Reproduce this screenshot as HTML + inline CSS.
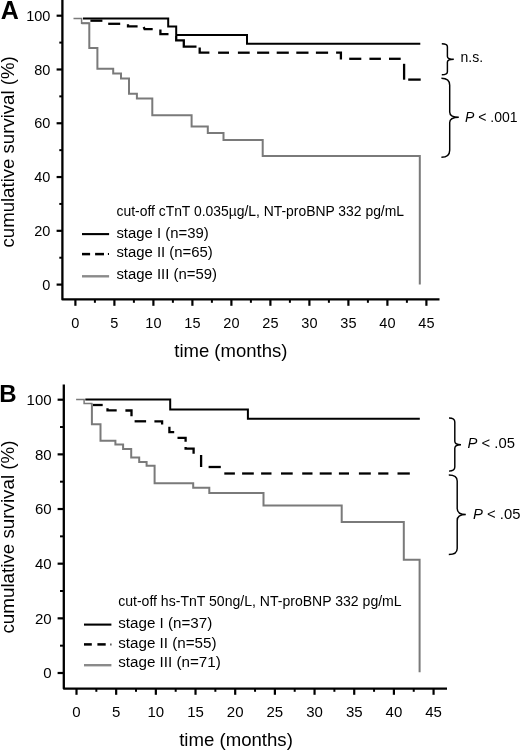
<!DOCTYPE html>
<html><head><meta charset="utf-8"><style>
html,body{margin:0;padding:0;background:#fff;width:520px;height:750px;overflow:hidden}
svg{display:block;position:absolute;left:0;top:0;will-change:transform}
text{font-family:"Liberation Sans", sans-serif;fill:#000}
</style></head><body>
<svg width="520" height="750" viewBox="0 0 520 750">
<polyline points="62.4,0 62.4,299.4 439.5,299.4" fill="none" stroke="#000" stroke-width="2.3" stroke-linejoin="round" stroke-linecap="butt"/>
<line x1="56.6" y1="284.6" x2="62.4" y2="284.6" stroke="#000" stroke-width="2.2" stroke-linecap="butt"/>
<text x="50.4" y="289.7" font-size="14.5" text-anchor="end" font-weight="normal" font-style="normal" >0</text>
<line x1="59.3" y1="257.71" x2="62.4" y2="257.71" stroke="#000" stroke-width="2" stroke-linecap="butt"/>
<line x1="56.6" y1="230.82" x2="62.4" y2="230.82" stroke="#000" stroke-width="2.2" stroke-linecap="butt"/>
<text x="50.4" y="235.92" font-size="14.5" text-anchor="end" font-weight="normal" font-style="normal" >20</text>
<line x1="59.3" y1="203.93" x2="62.4" y2="203.93" stroke="#000" stroke-width="2" stroke-linecap="butt"/>
<line x1="56.6" y1="177.04" x2="62.4" y2="177.04" stroke="#000" stroke-width="2.2" stroke-linecap="butt"/>
<text x="50.4" y="182.14" font-size="14.5" text-anchor="end" font-weight="normal" font-style="normal" >40</text>
<line x1="59.3" y1="150.15" x2="62.4" y2="150.15" stroke="#000" stroke-width="2" stroke-linecap="butt"/>
<line x1="56.6" y1="123.26" x2="62.4" y2="123.26" stroke="#000" stroke-width="2.2" stroke-linecap="butt"/>
<text x="50.4" y="128.36" font-size="14.5" text-anchor="end" font-weight="normal" font-style="normal" >60</text>
<line x1="59.3" y1="96.37" x2="62.4" y2="96.37" stroke="#000" stroke-width="2" stroke-linecap="butt"/>
<line x1="56.6" y1="69.48" x2="62.4" y2="69.48" stroke="#000" stroke-width="2.2" stroke-linecap="butt"/>
<text x="50.4" y="74.58" font-size="14.5" text-anchor="end" font-weight="normal" font-style="normal" >80</text>
<line x1="59.3" y1="42.59" x2="62.4" y2="42.59" stroke="#000" stroke-width="2" stroke-linecap="butt"/>
<line x1="56.6" y1="15.7" x2="62.4" y2="15.7" stroke="#000" stroke-width="2.2" stroke-linecap="butt"/>
<text x="50.4" y="20.8" font-size="14.5" text-anchor="end" font-weight="normal" font-style="normal" >100</text>
<line x1="75.4" y1="299.4" x2="75.4" y2="305.8" stroke="#000" stroke-width="2.2" stroke-linecap="butt"/>
<text x="75.4" y="328.3" font-size="14.5" text-anchor="middle" font-weight="normal" font-style="normal" >0</text>
<line x1="94.9" y1="299.4" x2="94.9" y2="302.8" stroke="#000" stroke-width="2" stroke-linecap="butt"/>
<line x1="114.4" y1="299.4" x2="114.4" y2="305.8" stroke="#000" stroke-width="2.2" stroke-linecap="butt"/>
<text x="114.4" y="328.3" font-size="14.5" text-anchor="middle" font-weight="normal" font-style="normal" >5</text>
<line x1="133.9" y1="299.4" x2="133.9" y2="302.8" stroke="#000" stroke-width="2" stroke-linecap="butt"/>
<line x1="153.4" y1="299.4" x2="153.4" y2="305.8" stroke="#000" stroke-width="2.2" stroke-linecap="butt"/>
<text x="153.4" y="328.3" font-size="14.5" text-anchor="middle" font-weight="normal" font-style="normal" >10</text>
<line x1="172.9" y1="299.4" x2="172.9" y2="302.8" stroke="#000" stroke-width="2" stroke-linecap="butt"/>
<line x1="192.4" y1="299.4" x2="192.4" y2="305.8" stroke="#000" stroke-width="2.2" stroke-linecap="butt"/>
<text x="192.4" y="328.3" font-size="14.5" text-anchor="middle" font-weight="normal" font-style="normal" >15</text>
<line x1="211.9" y1="299.4" x2="211.9" y2="302.8" stroke="#000" stroke-width="2" stroke-linecap="butt"/>
<line x1="231.4" y1="299.4" x2="231.4" y2="305.8" stroke="#000" stroke-width="2.2" stroke-linecap="butt"/>
<text x="231.4" y="328.3" font-size="14.5" text-anchor="middle" font-weight="normal" font-style="normal" >20</text>
<line x1="250.9" y1="299.4" x2="250.9" y2="302.8" stroke="#000" stroke-width="2" stroke-linecap="butt"/>
<line x1="270.4" y1="299.4" x2="270.4" y2="305.8" stroke="#000" stroke-width="2.2" stroke-linecap="butt"/>
<text x="270.4" y="328.3" font-size="14.5" text-anchor="middle" font-weight="normal" font-style="normal" >25</text>
<line x1="289.9" y1="299.4" x2="289.9" y2="302.8" stroke="#000" stroke-width="2" stroke-linecap="butt"/>
<line x1="309.4" y1="299.4" x2="309.4" y2="305.8" stroke="#000" stroke-width="2.2" stroke-linecap="butt"/>
<text x="309.4" y="328.3" font-size="14.5" text-anchor="middle" font-weight="normal" font-style="normal" >30</text>
<line x1="328.9" y1="299.4" x2="328.9" y2="302.8" stroke="#000" stroke-width="2" stroke-linecap="butt"/>
<line x1="348.4" y1="299.4" x2="348.4" y2="305.8" stroke="#000" stroke-width="2.2" stroke-linecap="butt"/>
<text x="348.4" y="328.3" font-size="14.5" text-anchor="middle" font-weight="normal" font-style="normal" >35</text>
<line x1="367.9" y1="299.4" x2="367.9" y2="302.8" stroke="#000" stroke-width="2" stroke-linecap="butt"/>
<line x1="387.4" y1="299.4" x2="387.4" y2="305.8" stroke="#000" stroke-width="2.2" stroke-linecap="butt"/>
<text x="387.4" y="328.3" font-size="14.5" text-anchor="middle" font-weight="normal" font-style="normal" >40</text>
<line x1="406.9" y1="299.4" x2="406.9" y2="302.8" stroke="#000" stroke-width="2" stroke-linecap="butt"/>
<line x1="426.4" y1="299.4" x2="426.4" y2="305.8" stroke="#000" stroke-width="2.2" stroke-linecap="butt"/>
<text x="426.4" y="328.3" font-size="14.5" text-anchor="middle" font-weight="normal" font-style="normal" >45</text>
<polyline points="63.8,384.6 63.8,688.6 447,688.6" fill="none" stroke="#000" stroke-width="2.3" stroke-linejoin="round" stroke-linecap="butt"/>
<line x1="57.6" y1="673" x2="63.8" y2="673" stroke="#000" stroke-width="2.2" stroke-linecap="butt"/>
<text x="51.6" y="678.3" font-size="15" text-anchor="end" font-weight="normal" font-style="normal" >0</text>
<line x1="60" y1="645.67" x2="63.8" y2="645.67" stroke="#000" stroke-width="2" stroke-linecap="butt"/>
<line x1="57.6" y1="618.34" x2="63.8" y2="618.34" stroke="#000" stroke-width="2.2" stroke-linecap="butt"/>
<text x="51.6" y="623.64" font-size="15" text-anchor="end" font-weight="normal" font-style="normal" >20</text>
<line x1="60" y1="591.01" x2="63.8" y2="591.01" stroke="#000" stroke-width="2" stroke-linecap="butt"/>
<line x1="57.6" y1="563.68" x2="63.8" y2="563.68" stroke="#000" stroke-width="2.2" stroke-linecap="butt"/>
<text x="51.6" y="568.98" font-size="15" text-anchor="end" font-weight="normal" font-style="normal" >40</text>
<line x1="60" y1="536.35" x2="63.8" y2="536.35" stroke="#000" stroke-width="2" stroke-linecap="butt"/>
<line x1="57.6" y1="509.02" x2="63.8" y2="509.02" stroke="#000" stroke-width="2.2" stroke-linecap="butt"/>
<text x="51.6" y="514.32" font-size="15" text-anchor="end" font-weight="normal" font-style="normal" >60</text>
<line x1="60" y1="481.69" x2="63.8" y2="481.69" stroke="#000" stroke-width="2" stroke-linecap="butt"/>
<line x1="57.6" y1="454.36" x2="63.8" y2="454.36" stroke="#000" stroke-width="2.2" stroke-linecap="butt"/>
<text x="51.6" y="459.66" font-size="15" text-anchor="end" font-weight="normal" font-style="normal" >80</text>
<line x1="60" y1="427.03" x2="63.8" y2="427.03" stroke="#000" stroke-width="2" stroke-linecap="butt"/>
<line x1="57.6" y1="399.7" x2="63.8" y2="399.7" stroke="#000" stroke-width="2.2" stroke-linecap="butt"/>
<text x="51.6" y="405" font-size="15" text-anchor="end" font-weight="normal" font-style="normal" >100</text>
<line x1="76.5" y1="688.6" x2="76.5" y2="694.8" stroke="#000" stroke-width="2.2" stroke-linecap="butt"/>
<text x="76.5" y="717.2" font-size="15" text-anchor="middle" font-weight="normal" font-style="normal" >0</text>
<line x1="96.34" y1="688.6" x2="96.34" y2="691.8" stroke="#000" stroke-width="2" stroke-linecap="butt"/>
<line x1="116.17" y1="688.6" x2="116.17" y2="694.8" stroke="#000" stroke-width="2.2" stroke-linecap="butt"/>
<text x="116.17" y="717.2" font-size="15" text-anchor="middle" font-weight="normal" font-style="normal" >5</text>
<line x1="136.01" y1="688.6" x2="136.01" y2="691.8" stroke="#000" stroke-width="2" stroke-linecap="butt"/>
<line x1="155.85" y1="688.6" x2="155.85" y2="694.8" stroke="#000" stroke-width="2.2" stroke-linecap="butt"/>
<text x="155.85" y="717.2" font-size="15" text-anchor="middle" font-weight="normal" font-style="normal" >10</text>
<line x1="175.69" y1="688.6" x2="175.69" y2="691.8" stroke="#000" stroke-width="2" stroke-linecap="butt"/>
<line x1="195.52" y1="688.6" x2="195.52" y2="694.8" stroke="#000" stroke-width="2.2" stroke-linecap="butt"/>
<text x="195.52" y="717.2" font-size="15" text-anchor="middle" font-weight="normal" font-style="normal" >15</text>
<line x1="215.36" y1="688.6" x2="215.36" y2="691.8" stroke="#000" stroke-width="2" stroke-linecap="butt"/>
<line x1="235.2" y1="688.6" x2="235.2" y2="694.8" stroke="#000" stroke-width="2.2" stroke-linecap="butt"/>
<text x="235.2" y="717.2" font-size="15" text-anchor="middle" font-weight="normal" font-style="normal" >20</text>
<line x1="255.04" y1="688.6" x2="255.04" y2="691.8" stroke="#000" stroke-width="2" stroke-linecap="butt"/>
<line x1="274.88" y1="688.6" x2="274.88" y2="694.8" stroke="#000" stroke-width="2.2" stroke-linecap="butt"/>
<text x="274.88" y="717.2" font-size="15" text-anchor="middle" font-weight="normal" font-style="normal" >25</text>
<line x1="294.71" y1="688.6" x2="294.71" y2="691.8" stroke="#000" stroke-width="2" stroke-linecap="butt"/>
<line x1="314.55" y1="688.6" x2="314.55" y2="694.8" stroke="#000" stroke-width="2.2" stroke-linecap="butt"/>
<text x="314.55" y="717.2" font-size="15" text-anchor="middle" font-weight="normal" font-style="normal" >30</text>
<line x1="334.39" y1="688.6" x2="334.39" y2="691.8" stroke="#000" stroke-width="2" stroke-linecap="butt"/>
<line x1="354.22" y1="688.6" x2="354.22" y2="694.8" stroke="#000" stroke-width="2.2" stroke-linecap="butt"/>
<text x="354.22" y="717.2" font-size="15" text-anchor="middle" font-weight="normal" font-style="normal" >35</text>
<line x1="374.06" y1="688.6" x2="374.06" y2="691.8" stroke="#000" stroke-width="2" stroke-linecap="butt"/>
<line x1="393.9" y1="688.6" x2="393.9" y2="694.8" stroke="#000" stroke-width="2.2" stroke-linecap="butt"/>
<text x="393.9" y="717.2" font-size="15" text-anchor="middle" font-weight="normal" font-style="normal" >40</text>
<line x1="413.74" y1="688.6" x2="413.74" y2="691.8" stroke="#000" stroke-width="2" stroke-linecap="butt"/>
<line x1="433.57" y1="688.6" x2="433.57" y2="694.8" stroke="#000" stroke-width="2.2" stroke-linecap="butt"/>
<text x="433.57" y="717.2" font-size="15" text-anchor="middle" font-weight="normal" font-style="normal" >45</text>
<text x="0.8" y="18.5" font-size="25" text-anchor="start" font-weight="bold" font-style="normal" >A</text>
<text x="-0.8" y="402" font-size="24" text-anchor="start" font-weight="bold" font-style="normal" >B</text>
<text x="230.8" y="356.8" font-size="18.5" text-anchor="middle" font-weight="normal" font-style="normal" >time (months)</text>
<text x="236" y="745.5" font-size="18.6" text-anchor="middle" font-weight="normal" font-style="normal" >time (months)</text>
<text x="0" y="0" font-size="18.6" text-anchor="middle" font-weight="normal" font-style="normal" transform="translate(13.8,151.9) rotate(-90)">cumulative survival (%)</text>
<text x="0" y="0" font-size="18.8" text-anchor="middle" font-weight="normal" font-style="normal" transform="translate(13.8,537) rotate(-90)">cumulative survival (%)</text>
<polyline points="83,18.6 168.2,18.6 168.2,26.4 176.2,26.4 176.2,34.9 247,34.9 247,43.8 420.3,43.8" fill="none" stroke="#000" stroke-width="2" stroke-linejoin="miter" stroke-linecap="butt"/>
<polyline points="90.4,20.7 102.4,20.7" fill="none" stroke="#000" stroke-width="2.3" stroke-linejoin="miter" stroke-linecap="butt"/>
<polyline points="108.2,23.8 120.2,23.8" fill="none" stroke="#000" stroke-width="2.3" stroke-linejoin="miter" stroke-linecap="butt"/>
<polyline points="128,24.2 128,26.4 137.6,26.4" fill="none" stroke="#000" stroke-width="2.3" stroke-linejoin="miter" stroke-linecap="butt"/>
<polyline points="143.7,27 144.6,29.2 152.7,29.2" fill="none" stroke="#000" stroke-width="2.3" stroke-linejoin="miter" stroke-linecap="butt"/>
<polyline points="160.4,29.5 160.4,34.2 168.5,34.2" fill="none" stroke="#000" stroke-width="2.3" stroke-linejoin="miter" stroke-linecap="butt"/>
<polyline points="176.2,36 176.2,40.3 183.8,40.3 183.8,46.6 196.5,46.6" fill="none" stroke="#000" stroke-width="2.3" stroke-linejoin="miter" stroke-linecap="butt"/>
<polyline points="199.7,47.6 199.7,52.7 209.4,52.7" fill="none" stroke="#000" stroke-width="2.3" stroke-linejoin="miter" stroke-linecap="butt"/>
<polyline points="218.1,52.7 229,52.7" fill="none" stroke="#000" stroke-width="2.3" stroke-linejoin="miter" stroke-linecap="butt"/>
<polyline points="237.9,52.7 249.7,52.7" fill="none" stroke="#000" stroke-width="2.3" stroke-linejoin="miter" stroke-linecap="butt"/>
<polyline points="257.1,52.7 269.2,52.7" fill="none" stroke="#000" stroke-width="2.3" stroke-linejoin="miter" stroke-linecap="butt"/>
<polyline points="276.7,52.7 288.8,52.7" fill="none" stroke="#000" stroke-width="2.3" stroke-linejoin="miter" stroke-linecap="butt"/>
<polyline points="296.3,52.7 308.5,52.7" fill="none" stroke="#000" stroke-width="2.3" stroke-linejoin="miter" stroke-linecap="butt"/>
<polyline points="315.9,52.7 328.1,52.7" fill="none" stroke="#000" stroke-width="2.3" stroke-linejoin="miter" stroke-linecap="butt"/>
<polyline points="336.1,52.7 340.9,52.7 340.9,59.6" fill="none" stroke="#000" stroke-width="2.3" stroke-linejoin="miter" stroke-linecap="butt"/>
<polyline points="349.2,58.8 361.3,58.8" fill="none" stroke="#000" stroke-width="2.3" stroke-linejoin="miter" stroke-linecap="butt"/>
<polyline points="369.4,58.8 380.9,58.8" fill="none" stroke="#000" stroke-width="2.3" stroke-linejoin="miter" stroke-linecap="butt"/>
<polyline points="389,58.8 400.7,58.8" fill="none" stroke="#000" stroke-width="2.3" stroke-linejoin="miter" stroke-linecap="butt"/>
<polyline points="404.1,63.8 404.1,79.7" fill="none" stroke="#000" stroke-width="2.3" stroke-linejoin="miter" stroke-linecap="butt"/>
<polyline points="408.2,79.6 420.7,79.6" fill="none" stroke="#000" stroke-width="2.3" stroke-linejoin="miter" stroke-linecap="butt"/>
<polyline points="73.5,18.6 81.6,18.6 81.6,23.3 89.3,23.3" fill="none" stroke="#7a7a7a" stroke-width="1.5" stroke-linejoin="miter" stroke-linecap="butt"/>
<polyline points="81.6,23.3 89.3,23.3 89.3,48 97.4,48 97.4,68.8 113.2,68.8 113.2,73.6 121,73.6 121,78.5 129,78.5 129,93.8 136.9,93.8 136.9,98.5 152.3,98.5 152.3,115.2 191.6,115.2 191.6,126.6 207.8,126.6 207.8,133.1 223.5,133.1 223.5,140 262.7,140 262.7,156.1 419.8,156.1 419.8,284.6 419.8,284.6" fill="none" stroke="#7a7a7a" stroke-width="2" stroke-linejoin="miter" stroke-linecap="butt"/>
<polyline points="85.3,399.6 170.2,399.6 170.2,409.5 247.9,409.5 247.9,418.7 419.8,418.7" fill="none" stroke="#000" stroke-width="2" stroke-linejoin="miter" stroke-linecap="butt"/>
<polyline points="92.8,405 102.7,405" fill="none" stroke="#000" stroke-width="2.3" stroke-linejoin="miter" stroke-linecap="butt"/>
<polyline points="107.5,408.3 107.5,410.3 116.7,410.3" fill="none" stroke="#000" stroke-width="2.3" stroke-linejoin="miter" stroke-linecap="butt"/>
<polyline points="125.4,410.5 131.5,410.5 131.5,416.3" fill="none" stroke="#000" stroke-width="2.3" stroke-linejoin="miter" stroke-linecap="butt"/>
<polyline points="134.6,421.3 146.1,421.3" fill="none" stroke="#000" stroke-width="2.3" stroke-linejoin="miter" stroke-linecap="butt"/>
<polyline points="154.4,421.3 162.1,421.3 162.1,424.4" fill="none" stroke="#000" stroke-width="2.3" stroke-linejoin="miter" stroke-linecap="butt"/>
<polyline points="169.4,426.7 169.4,432.1 174.2,432.1" fill="none" stroke="#000" stroke-width="2.3" stroke-linejoin="miter" stroke-linecap="butt"/>
<polyline points="177.5,437.8 185.6,437.8 185.6,441.7" fill="none" stroke="#000" stroke-width="2.3" stroke-linejoin="miter" stroke-linecap="butt"/>
<polyline points="185.6,447 185.6,448.6 193.6,448.6 193.6,453.8" fill="none" stroke="#000" stroke-width="2.3" stroke-linejoin="miter" stroke-linecap="butt"/>
<polyline points="201.1,455 201.1,467" fill="none" stroke="#000" stroke-width="2.3" stroke-linejoin="miter" stroke-linecap="butt"/>
<polyline points="208.6,467 220.8,467" fill="none" stroke="#000" stroke-width="2.3" stroke-linejoin="miter" stroke-linecap="butt"/>
<polyline points="224.3,473.5 234.9,473.5" fill="none" stroke="#000" stroke-width="2.3" stroke-linejoin="miter" stroke-linecap="butt"/>
<polyline points="242.1,473.5 253.8,473.5" fill="none" stroke="#000" stroke-width="2.3" stroke-linejoin="miter" stroke-linecap="butt"/>
<polyline points="261.1,473.5 271.5,473.5" fill="none" stroke="#000" stroke-width="2.3" stroke-linejoin="miter" stroke-linecap="butt"/>
<polyline points="281,473.5 292.7,473.5" fill="none" stroke="#000" stroke-width="2.3" stroke-linejoin="miter" stroke-linecap="butt"/>
<polyline points="302.2,473.5 312.5,473.5" fill="none" stroke="#000" stroke-width="2.3" stroke-linejoin="miter" stroke-linecap="butt"/>
<polyline points="319.7,473.5 331.7,473.5" fill="none" stroke="#000" stroke-width="2.3" stroke-linejoin="miter" stroke-linecap="butt"/>
<polyline points="338.9,473.5 349,473.5" fill="none" stroke="#000" stroke-width="2.3" stroke-linejoin="miter" stroke-linecap="butt"/>
<polyline points="358.9,473.5 370.8,473.5" fill="none" stroke="#000" stroke-width="2.3" stroke-linejoin="miter" stroke-linecap="butt"/>
<polyline points="378.2,473.5 388.4,473.5" fill="none" stroke="#000" stroke-width="2.3" stroke-linejoin="miter" stroke-linecap="butt"/>
<polyline points="397.5,473.5 409.8,473.5" fill="none" stroke="#000" stroke-width="2.3" stroke-linejoin="miter" stroke-linecap="butt"/>
<polyline points="76.1,399.6 84.1,399.6 84.1,403.5 92.5,403.5" fill="none" stroke="#7a7a7a" stroke-width="1.5" stroke-linejoin="miter" stroke-linecap="butt"/>
<polyline points="91.9,403.5 91.9,403.5 91.9,424.2 100.5,424.2 100.5,440.8 115.4,440.8 115.4,444.6 123.1,444.6 123.1,448.9 131.2,448.9 131.2,457.4 139.2,457.4 139.2,462 146.6,462 146.6,465.7 154.6,465.7 154.6,483.2 193.2,483.2 193.2,487.8 209.3,487.8 209.3,493.1 263.5,493.1 263.5,505.6 341.7,505.6 341.7,521.9 403.8,521.9 403.8,559.8 419.6,559.8 419.6,672.3 419.6,672.3" fill="none" stroke="#7a7a7a" stroke-width="2" stroke-linejoin="miter" stroke-linecap="butt"/>
<path d="M441.8,43.8 Q447.4,43.8 447.4,46.8 L447.4,56.5 Q447.4,59.3 453.8,59.3 Q447.4,59.3 447.4,62.1 L447.4,71.8 Q447.4,74.8 441.8,74.8" fill="none" stroke="#000" stroke-width="1.45" stroke-linejoin="miter" stroke-miterlimit="10"/>
<text x="460.5" y="62" font-size="14" text-anchor="start" font-weight="normal" font-style="normal" >n.s.</text>
<path d="M441.4,78.3 Q449.7,78.3 449.7,85.3 L449.7,112 Q449.7,117.3 458.8,117.3 Q449.7,117.3 449.7,122.6 L449.7,150.2 Q449.7,157.2 441.4,157.2" fill="none" stroke="#000" stroke-width="1.45" stroke-linejoin="miter" stroke-miterlimit="10"/>
<text x="465" y="122" font-size="14" text-anchor="start" font-weight="normal" font-style="normal" ><tspan font-style="italic">P</tspan> &lt; .001</text>
<path d="M449,418 Q454.8,418 454.8,422 L454.8,441.2 Q454.8,444.7 461,444.7 Q454.8,444.7 454.8,448.2 L454.8,467.1 Q454.8,471.1 449,471.1" fill="none" stroke="#000" stroke-width="1.45" stroke-linejoin="miter" stroke-miterlimit="10"/>
<text x="467.6" y="448.3" font-size="14.8" text-anchor="start" font-weight="normal" font-style="normal" ><tspan font-style="italic">P</tspan> &lt; .05</text>
<path d="M448.8,474.9 Q457.2,474.9 457.2,480.9 L457.2,508.4 Q457.2,514.4 465.8,514.4 Q457.2,514.4 457.2,520.4 L457.2,548.5 Q457.2,554.5 448.8,554.5" fill="none" stroke="#000" stroke-width="1.45" stroke-linejoin="miter" stroke-miterlimit="10"/>
<text x="473.1" y="519.4" font-size="14.8" text-anchor="start" font-weight="normal" font-style="normal" ><tspan font-style="italic">P</tspan> &lt; .05</text>
<text x="116.5" y="215.8" font-size="13.9" text-anchor="start" font-weight="normal" font-style="normal" >cut-off cTnT 0.035µg/L, NT-proBNP 332 pg/mL</text>
<text x="116.4" y="238.2" font-size="14.9" text-anchor="start" font-weight="normal" font-style="normal" >stage I (n=39)</text>
<text x="116.4" y="256.8" font-size="14.9" text-anchor="start" font-weight="normal" font-style="normal" >stage II (n=65)</text>
<text x="116.4" y="279.1" font-size="14.9" text-anchor="start" font-weight="normal" font-style="normal" >stage III (n=59)</text>
<line x1="82" y1="234.1" x2="109.1" y2="234.1" stroke="#000" stroke-width="2.1" stroke-linecap="butt"/>
<line x1="82" y1="254.1" x2="90.1" y2="254.1" stroke="#000" stroke-width="2.5" stroke-linecap="butt"/>
<line x1="95.1" y1="254.1" x2="104" y2="254.1" stroke="#000" stroke-width="2.5" stroke-linecap="butt"/>
<line x1="107.9" y1="254.1" x2="109" y2="254.1" stroke="#000" stroke-width="2" stroke-linecap="butt"/>
<line x1="82" y1="276.3" x2="109.1" y2="276.3" stroke="#8a8a8a" stroke-width="2.4" stroke-linecap="butt"/>
<text x="118.2" y="605.7" font-size="14.05" text-anchor="start" font-weight="normal" font-style="normal" >cut-off hs-TnT 50ng/L, NT-proBNP 332 pg/mL</text>
<text x="118.2" y="628.2" font-size="15.2" text-anchor="start" font-weight="normal" font-style="normal" >stage I (n=37)</text>
<text x="118.2" y="647.8" font-size="15.2" text-anchor="start" font-weight="normal" font-style="normal" >stage II (n=55)</text>
<text x="118.2" y="666.8" font-size="15.2" text-anchor="start" font-weight="normal" font-style="normal" >stage III (n=71)</text>
<line x1="84" y1="624.6" x2="111.4" y2="624.6" stroke="#000" stroke-width="2.1" stroke-linecap="butt"/>
<line x1="84" y1="644.4" x2="91.8" y2="644.4" stroke="#000" stroke-width="2.5" stroke-linecap="butt"/>
<line x1="97.4" y1="644.4" x2="105.7" y2="644.4" stroke="#000" stroke-width="2.5" stroke-linecap="butt"/>
<line x1="110.4" y1="644.4" x2="111.4" y2="644.4" stroke="#000" stroke-width="2" stroke-linecap="butt"/>
<line x1="84" y1="665.2" x2="111.4" y2="665.2" stroke="#8a8a8a" stroke-width="2.4" stroke-linecap="butt"/>
</svg>
</body></html>
